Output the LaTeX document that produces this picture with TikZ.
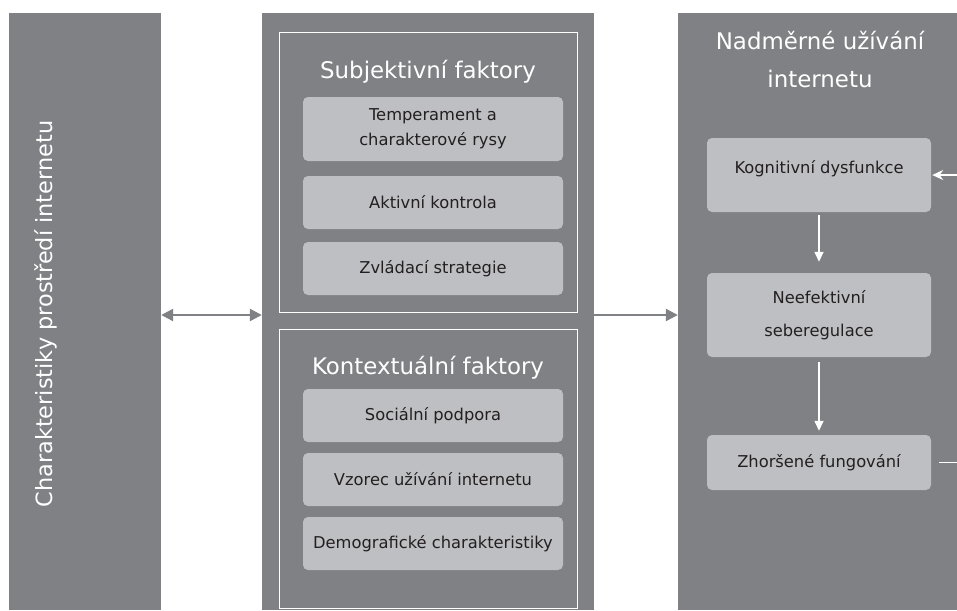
\documentclass[tikz,border=0pt]{standalone}
\usepackage{fontspec}
\setmainfont{DejaVu Sans}
\usetikzlibrary{arrows.meta,calc}
\definecolor{panelgray}{HTML}{808185}
\definecolor{boxgray}{HTML}{BEBFC2}
\definecolor{textdark}{HTML}{231F20}
\tikzset{
  panel/.style={fill=panelgray, draw=none, inner sep=0pt},
  group/.style={draw=white, line width=1pt, fill=none, inner sep=0pt, minimum width=298pt, minimum height=279pt},
  title/.style={text=white, font=\fontsize{22.9}{38}\selectfont, align=center, inner sep=0pt},
  item/.style={fill=boxgray, rounded corners=5pt, draw=none, text=textdark, align=center,
     font=\fontsize{16.3}{25}\selectfont, inner sep=0pt},
  lefti/.style={item, minimum width=260pt},
  righti/.style={item, minimum width=224pt},
  grayarrow/.style={draw=panelgray, line width=2.3pt, arrows={Triangle[length=12pt,width=12pt]-Triangle[length=12pt,width=12pt]}},
  grayarrowr/.style={draw=panelgray, line width=2.3pt, -{Triangle[length=12pt,width=12pt]}},
  whitearrow/.style={draw=white, line width=1.5pt, -{Triangle[length=10pt,width=9pt]}},
}
\begin{document}
\begin{tikzpicture}[x=1pt,y=-1pt]
\clip (0,0) rectangle (957,610);
\fill[white] (0,0) rectangle (957,610);
% panels
\node[panel, minimum width=152pt, minimum height=597pt] (env) at (85,311.5) {};
\node[panel, minimum width=332pt, minimum height=597pt] (mid) at (428,311.5) {};
\node[panel, minimum width=290pt, minimum height=597pt] (out) at (823,311.5) {};
\node[title, rotate=90, font=\fontsize{22.4}{26}\selectfont] (envt) at (46,314) {Charakteristiky prostředí internetu};
% subjective group
\node[group] (subj) at (428,172.5) {};
\node[title, anchor=base] (subjt) at (428,78) {Subjektivní faktory};
\node[lefti, minimum height=64pt] (temp) at (433,129) {Temperament a\\charakterové rysy};
\node[lefti, minimum height=53pt] (akt) at (433,202.5) {Aktivní kontrola};
\node[lefti, minimum height=53pt] (zvl) at (433,268.5) {Zvládací strategie};
% contextual group
\node[group] (ctx) at (428,468.5) {};
\node[title, anchor=base] (ctxt) at (428,374) {Kontextuální faktory};
\node[lefti, minimum height=53pt] (soc) at (433,415.5) {Sociální podpora};
\node[lefti, minimum height=53pt] (vzo) at (433,479.5) {Vzorec užívání internetu};
\node[lefti, minimum height=53pt] (dem) at (433,543.5) {Demografické charakteristiky};
% outcome panel
\node[title] (outt) at (820,60) {Nadměrné užívání\\internetu};
\node[righti, minimum height=74pt, text height=12pt, text depth=16pt] (kog) at (819,175) {Kognitivní dysfunkce};
\node[righti, minimum height=84pt, font=\fontsize{16.3}{33}\selectfont] (neef) at (819,315) {Neefektivní\\seberegulace};
\node[righti, minimum height=55pt] (zhor) at (819,462.5) {Zhoršené fungování};
% connectors
\coordinate (ylev) at (0,315);
\draw[grayarrow] (env.east |- ylev) -- (mid.west |- ylev);
\draw[grayarrowr] (mid.east |- ylev) -- (out.west |- ylev);
\draw[whitearrow, shorten <=3pt, shorten >=11pt] (kog.south) -- (neef.north);
\draw[whitearrow, shorten <=5pt, shorten >=4pt] (neef.south) -- (zhor.north);
\coordinate (fbA) at (985,462.5);
\coordinate (fbB) at (985,175);
\draw[draw=white, line width=1.5pt, -{Stealth[length=11pt,width=10pt]}, shorten >=1pt]
  ($(zhor.east)+(8,0)$) -- (fbA) -- (fbB) -- (kog.east);
\end{tikzpicture}
\end{document}
